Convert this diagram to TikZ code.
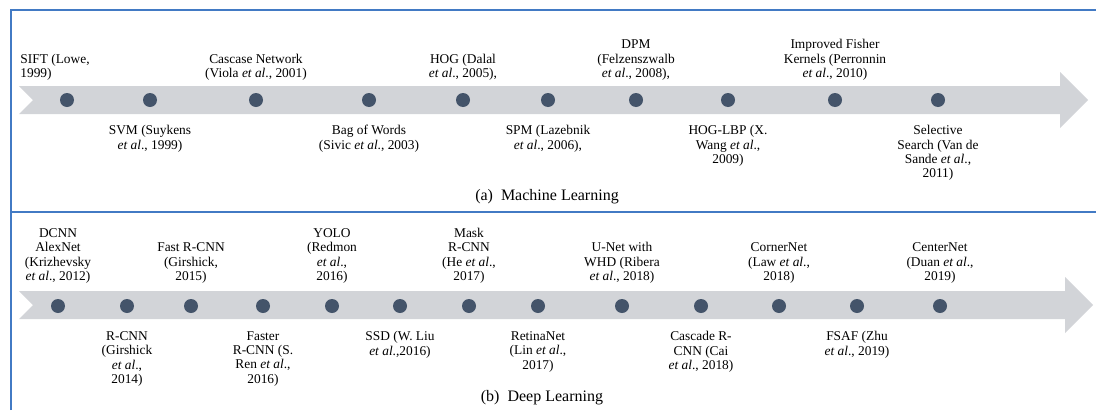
\documentclass[tikz,border=0pt]{standalone}
\usepackage{fontspec}
\setmainfont{Liberation Serif}
\definecolor{framblue}{RGB}{66,122,196}
\definecolor{bandgray}{RGB}{210,212,216}
\definecolor{dotslate}{RGB}{68,84,106}
\usepackage{tikz}
\usetikzlibrary{positioning}
\tikzset{
  dot/.style={circle,fill=dotslate,minimum size=14pt,inner sep=0pt},
  lbl/.style={align=center,inner sep=1pt,font=\fontsize{13.4}{14.4}\selectfont},
  capt/.style={inner sep=0pt,font=\fontsize{16}{18}\selectfont},
  frameline/.style={draw=framblue,line width=2pt}
}
\begin{document}
\begin{tikzpicture}[x=1pt,y=-1pt]
    \useasboundingbox (0,0) rectangle (1096,410);
    \draw[frameline] (11,410) -- (11,10) -- (1096,10);
    \draw[frameline] (11,212) -- (1096,212);

    % (a) machine learning
    \fill[bandgray] (19,86) -- (1060,86) -- (1060,72) -- (1088,100) -- (1060,128)
      -- (1060,114) -- (19,114) -- (33,100) -- cycle;
    \node[dot] (sift) at (67,100) {};
    \node[dot] (svm) at (150,100) {};
    \node[dot] (cascase) at (256,100) {};
    \node[dot] (bow) at (369,100) {};
    \node[dot] (hog) at (463,100) {};
    \node[dot] (spm) at (548,100) {};
    \node[dot] (dpm) at (636,100) {};
    \node[dot] (hoglbp) at (728,100) {};
    \node[dot] (fisher) at (835,100) {};
    \node[dot] (selsearch) at (938,100) {};

    \node[lbl,align=left,above=11pt of sift,xshift=-12pt] (siftlbl) {SIFT (Lowe,\\1999)};
    \node[lbl,below=17pt of svm] (svmlbl) {SVM (Suykens\\\textit{et al}., 1999)};
    \node[lbl,above=11pt of cascase] (cascaselbl) {Cascase Network\\(Viola \textit{et al}., 2001)};
    \node[lbl,below=17pt of bow] (bowlbl) {Bag of Words\\(Sivic \textit{et al}., 2003)};
    \node[lbl,above=11pt of hog] (hoglbl) {HOG (Dalal\\\textit{et al}., 2005),};
    \node[lbl,below=17pt of spm] (spmlbl) {SPM (Lazebnik\\\textit{et al}., 2006),};
    \node[lbl,above=11pt of dpm] (dpmlbl) {DPM\\(Felzenszwalb\\\textit{et al}., 2008),};
    \node[lbl,below=17pt of hoglbp] (hoglbplbl) {HOG-LBP (X.\\Wang \textit{et al}.,\\2009)};
    \node[lbl,above=11pt of fisher] (fisherlbl) {Improved Fisher\\Kernels (Perronnin\\\textit{et al}., 2010)};
    \node[lbl,below=17pt of selsearch] (selsearchlbl) {Selective\\Search (Van de\\Sande \textit{et al}.,\\2011)};

    \node[capt] (capta) at (547,197) {(a)\hspace{0.5em}Machine Learning};

    % (b) deep learning
    \fill[bandgray] (19,291) -- (1065,291) -- (1065,277) -- (1093,305) -- (1065,333)
      -- (1065,319) -- (19,319) -- (33,305) -- cycle;
    \node[dot] (dcnn) at (58,306) {};
    \node[dot] (rcnn) at (127,306) {};
    \node[dot] (fastrcnn) at (191,306) {};
    \node[dot] (fasterrcnn) at (263,306) {};
    \node[dot] (yolo) at (332,306) {};
    \node[dot] (ssd) at (400,306) {};
    \node[dot] (maskrcnn) at (469,306) {};
    \node[dot] (retina) at (538,306) {};
    \node[dot] (unet) at (622,306) {};
    \node[dot] (cascadercnn) at (701,306) {};
    \node[dot] (corner) at (779,306) {};
    \node[dot] (fsaf) at (857,306) {};
    \node[dot] (center) at (940,306) {};

    \node[lbl,above=14pt of dcnn] (dcnnlbl) {DCNN\\AlexNet\\(Krizhevsky\\\textit{et al}., 2012)};
    \node[lbl,below=17pt of rcnn] (rcnnlbl) {R-CNN\\(Girshick\\\textit{et al}.,\\2014)};
    \node[lbl,above=14pt of fastrcnn] (fastrcnnlbl) {Fast R-CNN\\(Girshick,\\2015)};
    \node[lbl,below=17pt of fasterrcnn] (fasterrcnnlbl) {Faster\\R-CNN (S.\\Ren \textit{et al}.,\\2016)};
    \node[lbl,above=14pt of yolo] (yololbl) {YOLO\\(Redmon\\\textit{et al}.,\\2016)};
    \node[lbl,below=17pt of ssd] (ssdlbl) {SSD (W. Liu\\\textit{et al}.,2016)};
    \node[lbl,above=14pt of maskrcnn] (maskrcnnlbl) {Mask\\R-CNN\\(He \textit{et al}.,\\2017)};
    \node[lbl,below=17pt of retina] (retinalbl) {RetinaNet\\(Lin \textit{et al}.,\\2017)};
    \node[lbl,above=14pt of unet] (unetlbl) {U-Net with\\WHD (Ribera\\\textit{et al}., 2018)};
    \node[lbl,below=17pt of cascadercnn] (cascadercnnlbl) {Cascade R-\\CNN (Cai\\\textit{et al}., 2018)};
    \node[lbl,above=14pt of corner] (cornerlbl) {CornerNet\\(Law \textit{et al}.,\\2018)};
    \node[lbl,below=17pt of fsaf] (fsaflbl) {FSAF (Zhu\\\textit{et al}., 2019)};
    \node[lbl,above=14pt of center] (centerlbl) {CenterNet\\(Duan \textit{et al}.,\\2019)};

    \node[capt] (captb) at (542,398) {(b)\hspace{0.5em}Deep Learning};
  \end{tikzpicture}
\end{document}
